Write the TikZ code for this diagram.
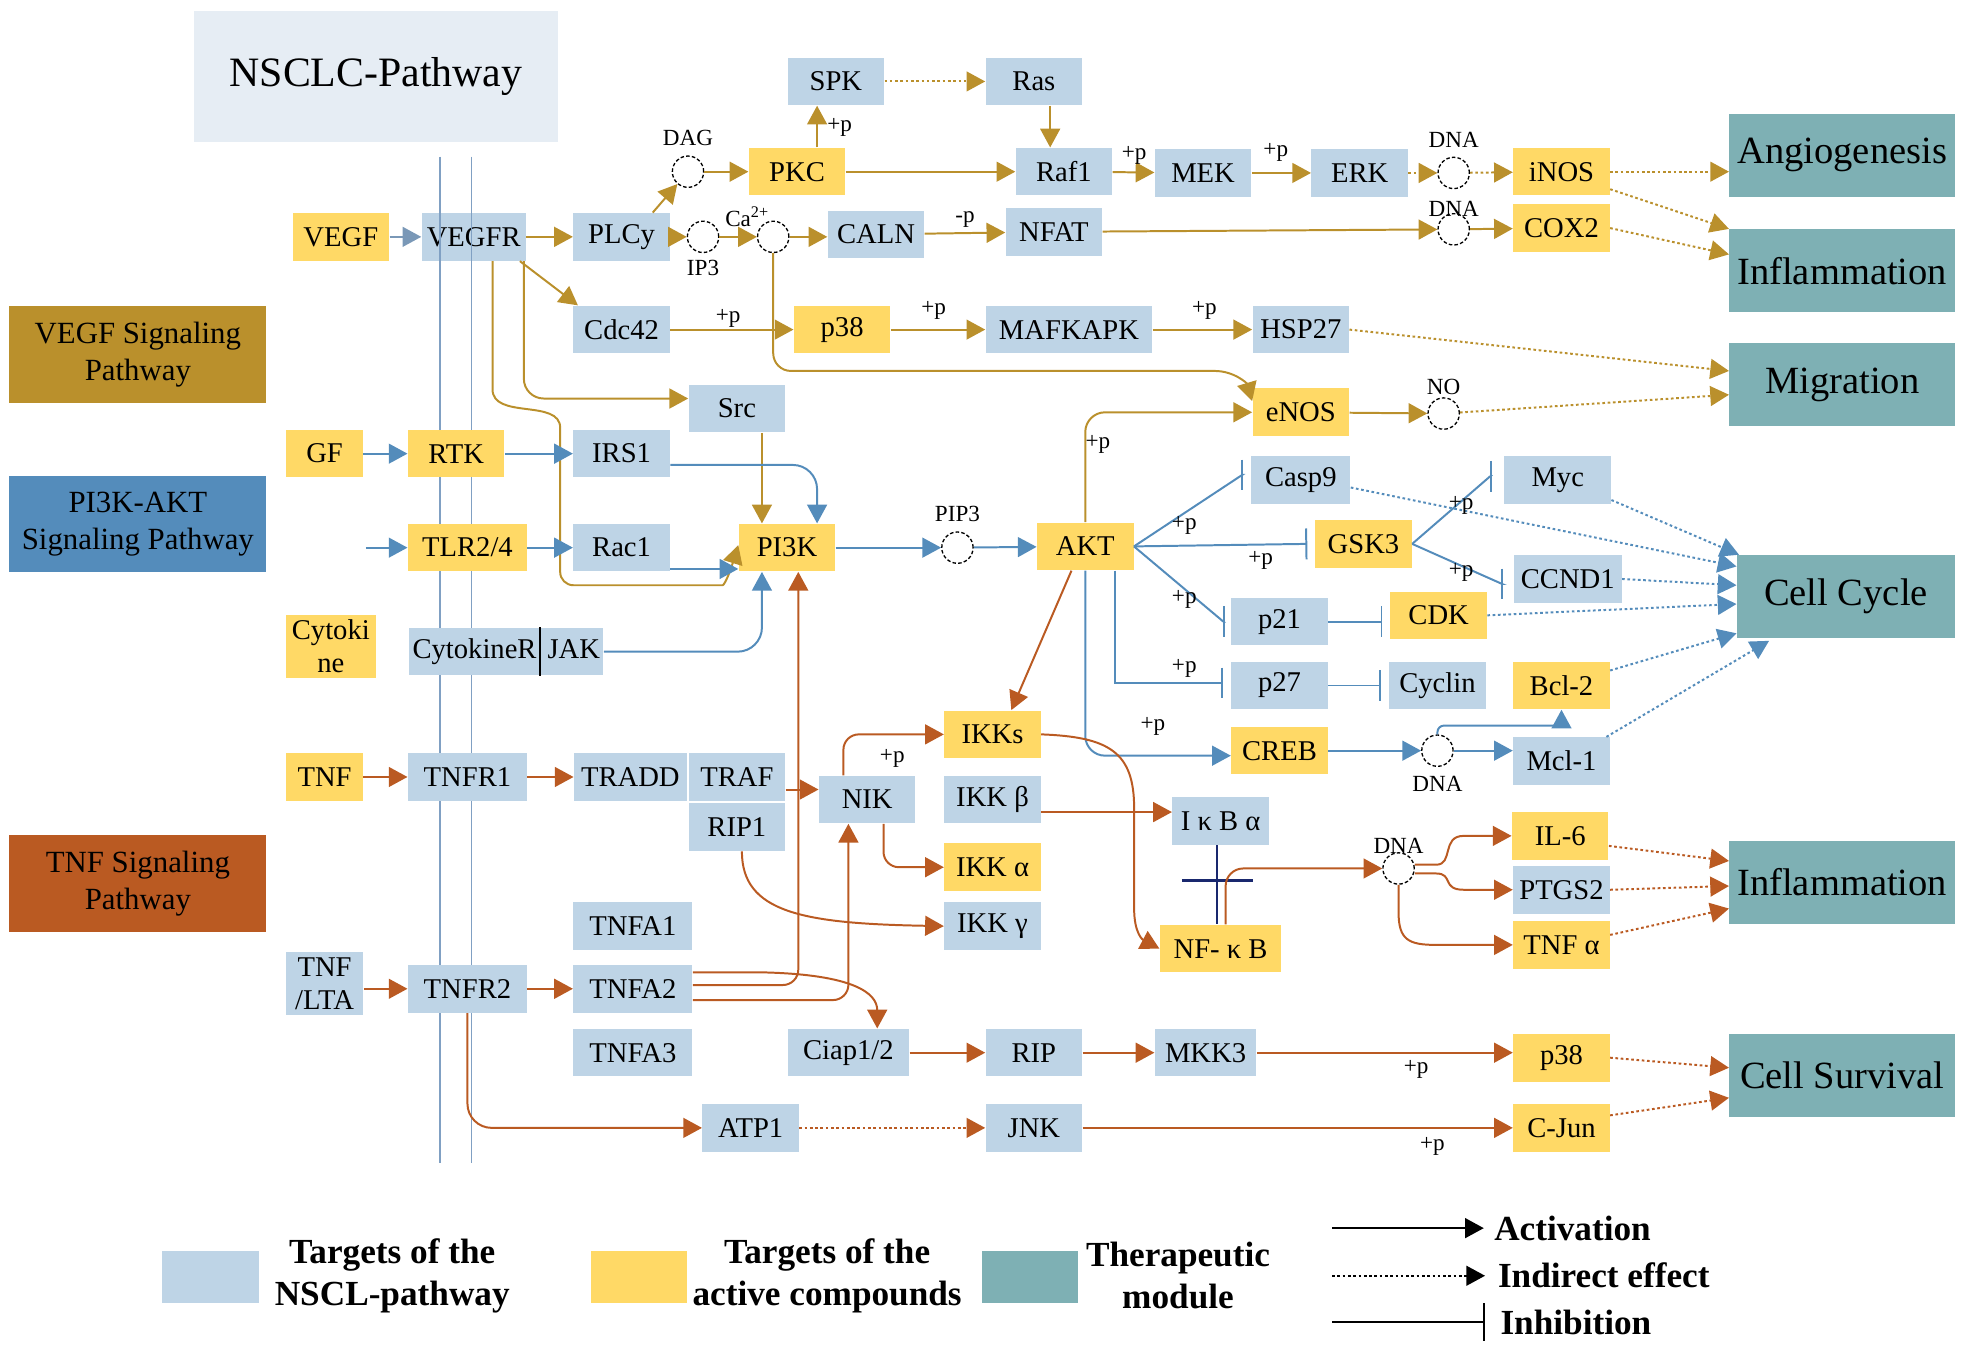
\documentclass[tikz,border=0pt]{standalone}
\usepackage{fontspec}
\setmainfont{Liberation Serif}
\usetikzlibrary{arrows.meta,calc}

\begin{document}
\begin{tikzpicture}[x=0.02cm, y=-0.02cm,
		gene/.style={fill=geneBlue, minimum width=1.54cm, minimum height=0.76cm, inner sep=1pt, font=\genefont},
		drug/.style={gene, fill=drugYellow},
		module/.style={fill=modTeal, minimum width=3.6cm, minimum height=1.32cm, inner sep=1pt, font=\modfont},
		pathkey/.style={minimum width=4.1cm, minimum height=1.54cm, inner sep=2pt, align=center, font=\legfont},
		dna/.style={circle, draw=black, dash pattern=on 1.6pt off 1pt, fill=white, minimum size=0.5cm, inner sep=0pt, line width=0.6pt},
		tag/.style={font=\tagfont, inner sep=1pt},
		act/.style={-{Triangle[length=8.5pt,width=9pt]}, line width=0.9pt},
		ind/.style={act, dash pattern=on 1.2pt off 1.2pt},
		inh/.style={-{Bar[width=14pt]}, line width=0.9pt},
		keytext/.style={font=\keyfont, align=center, inner sep=0pt}]
		
		% Define colors
		\definecolor{geneBlue}{RGB}{190,212,230}
		\definecolor{drugYellow}{RGB}{255,217,102}
		\definecolor{modTeal}{RGB}{126,176,180}
		\definecolor{vegfGold}{RGB}{186,144,44}
		\definecolor{piBlue}{RGB}{84,140,187}
		\definecolor{tnfRust}{RGB}{186,90,34}
		\definecolor{titleGray}{RGB}{230,237,244}
		\definecolor{memBlue}{RGB}{128,160,195}
		\definecolor{slateArrow}{RGB}{122,152,183}
		\definecolor{ikbNavy}{RGB}{25,40,110}
		
		% Define font sizes
		\newcommand{\genefont}{\fontsize{13}{15}\selectfont}
		\newcommand{\tagfont}{\fontsize{10.5}{12}\selectfont}
		\newcommand{\modfont}{\fontsize{17.5}{20}\selectfont}
		\newcommand{\legfont}{\fontsize{14}{17}\selectfont}
		\newcommand{\keyfont}{\fontsize{16}{19}\bfseries\selectfont}
		\newcommand{\ttlfont}{\fontsize{19}{23}\selectfont}
		
		\useasboundingbox (0,0) rectangle (1568,1078);
		
		% Draw the membrane
		\draw[memBlue, line width=0.6pt] (351,125) -- (351,928);
		\draw[memBlue, line width=0.6pt] (376,125) -- (376,928);
		
		% Title and pathway keys
		\node[fill=titleGray, minimum width=5.8cm, minimum height=2.1cm, font=\ttlfont] (title) at (300,61) {NSCLC-Pathway};
		\node[pathkey, fill=vegfGold] (vegfkey) at (110,283) {VEGF Signaling\\Pathway};
		\node[pathkey, fill=piBlue] (pikey) at (110,418) {PI3K-AKT\\Signaling Pathway};
		\node[pathkey, fill=tnfRust] (tnfkey) at (110,705) {TNF Signaling\\Pathway};
		
		% VEGF signaling nodes
		\node[drug] (vegf) at (272,189) {VEGF};
		\node[gene, minimum width=1.66cm] (vegfr) at (378,189) {VEGFR};
		\node[gene] (plc) at (496,189) {PLCy};
		\node[dna, label={[tag, label distance=2pt]below:IP3}] (ip3) at (561,189) {};
		\node[dna, label={[tag, label distance=-4pt]100:Ca\textsuperscript{2+}}] (ca) at (617,189) {};
		\node[gene] (caln) at (699,187) {CALN};
		\node[gene] (nfat) at (841,185) {NFAT};
		\node[dna, label={[tag, label distance=-3pt]above:DNA}] (dnab) at (1160,183) {};
		\node[drug] (cox) at (1246,182) {COX2};
		\node[dna, label={[tag, label distance=3pt]above:DAG}] (dag) at (549,137) {};
		\node[drug] (pkc) at (636,137) {PKC};
		\node[gene] (spk) at (667,65) {SPK};
		\node[gene] (ras) at (825,65) {Ras};
		\node[gene] (raf) at (849,137) {Raf1};
		\node[gene] (mek) at (960,138) {MEK};
		\node[gene] (erk) at (1085,138) {ERK};
		\node[dna, label={[tag, label distance=3pt]above:DNA}] (dnaa) at (1160,138) {};
		\node[drug] (inos) at (1246,137) {iNOS};
		\node[gene] (cdc) at (496,263) {Cdc42};
		\node[drug] (p38a) at (672,263) {p38};
		\node[gene, minimum width=2.66cm] (mapk) at (853,263) {MAFKAPK};
		\node[gene] (hsp) at (1038,263) {HSP27};
		\node[gene] (src) at (588,326) {Src};
		\node[drug] (enos) at (1038,329) {eNOS};
		\node[dna, label={[tag, label distance=0pt]above:NO}] (no) at (1152,330) {};
		
		% Therapeutic modules
		\node[module] (angio) at (1470,124) {Angiogenesis};
		\node[module] (infl) at (1470,216) {Inflammation};
		\node[module] (migr) at (1470,307) {Migration};
		\node[module, minimum width=3.48cm] (cycle) at (1473,476) {Cell Cycle};
		\node[module] (inflb) at (1470,704) {Inflammation};
		\node[module] (surv) at (1470,858) {Cell Survival};
		
		% PI3K-AKT nodes
		\node[drug, minimum width=1.22cm] (gf) at (259,362) {GF};
		\node[drug] (rtk) at (364,362) {RTK};
		\node[gene] (irs) at (496,362) {IRS1};
		\coordinate (tlrin) at (292,437);
		\node[drug, minimum width=1.9cm] (tlr) at (373,437) {TLR2/4};
		\node[gene] (rac) at (496,437) {Rac1};
		\node[drug] (pik) at (628,437) {PI3K};
		\node[dna, label={[tag, label distance=3pt]above:PIP3}] (pip) at (764,437) {};
		\node[drug] (akt) at (866,436) {AKT};
		\node[drug, minimum width=1.44cm, minimum height=1cm, align=center, inner sep=0pt] (cytok) at (264,516) {Cytoki\\ne};
		\node[gene, minimum width=3.1cm] (cytr) at (404,520) {CytokineR\hspace{5pt}JAK};
		\draw[black, line width=0.8pt] ($(cytr.north)+(27,0)$) -- ($(cytr.south)+(27,0)$);
		\node[gene, minimum width=1.58cm] (casp) at (1038,383) {Casp9};
		\node[drug] (gsk) at (1088,434) {GSK3};
		\node[gene, minimum width=1.7cm] (myc) at (1243,383) {Myc};
		\node[gene, minimum width=1.72cm] (ccnd) at (1251,462) {CCND1};
		\node[gene] (p21) at (1021,496) {p21};
		\node[drug] (cdk) at (1148,491) {CDK};
		\node[gene] (p27) at (1021,547) {p27};
		\node[gene] (cyclin) at (1147,547) {Cyclin};
		\node[drug] (bcl) at (1246,547) {Bcl-2};
		\node[drug] (creb) at (1021,599) {CREB};
		\node[dna, label={[tag, label distance=3pt]below:DNA}] (dnac) at (1147,599) {};
		\node[gene] (mcl) at (1246,607) {Mcl-1};
		
		% TNF signaling nodes
		\node[drug, minimum width=1.22cm] (tnf) at (259,620) {TNF};
		\node[gene, minimum width=1.9cm] (tnfr1) at (373,620) {TNFR1};
		\node[gene, minimum width=1.8cm] (tradd) at (503,620) {TRADD};
		\node[gene] (traf) at (588,620) {TRAF};
		\node[gene] (rip1) at (588,660) {RIP1};
		\node[gene] (nik) at (692,638) {NIK};
		\node[drug] (ikks) at (792,586) {IKKs};
		\node[gene] (ikkb) at (792,638) {IKK β};
		\node[drug] (ikka) at (792,692) {IKK α};
		\node[gene] (ikkg) at (792,739) {IKK γ};
		\node[gene] (ikb) at (974,655) {I κ B α};
		\node[drug, minimum width=1.94cm] (nfkb) at (974,757) {NF- κ B};
		\node[dna, label={[tag, label distance=-2pt]above:DNA}] (dnad) at (1116,693) {};
		\node[drug] (il6) at (1245,667) {IL-6};
		\node[gene] (ptgs) at (1246,710) {PTGS2};
		\node[drug] (tnfa) at (1246,754) {TNF α};
		\node[gene, minimum width=1.24cm, minimum height=1cm, align=center, inner sep=0pt] (tnflta) at (259,785) {TNF\\/LTA};
		\node[gene, minimum width=1.9cm] (tnfr2) at (373,789) {TNFR2};
		\node[gene, minimum width=1.9cm] (tnfa1) at (505,739) {TNFA1};
		\node[gene, minimum width=1.9cm] (tnfa2) at (505,789) {TNFA2};
		\node[gene, minimum width=1.9cm] (tnfa3) at (505,840) {TNFA3};
		\node[gene, minimum width=1.94cm] (ciap) at (677,840) {Ciap1/2};
		\node[gene] (rip) at (825,840) {RIP};
		\node[gene, minimum width=1.62cm] (mkk3) at (962,840) {MKK3};
		\node[drug] (p38b) at (1246,844) {p38};
		\node[gene] (atp1) at (599,900) {ATP1};
		\node[gene] (jnk) at (825,900) {JNK};
		\node[drug] (cjun) at (1246,900) {C-Jun};
		
		% Membrane over the VEGF receptor
		\draw[memBlue, line width=0.6pt] (351,0 |- vegfr.north) -- (351,0 |- vegfr.south);
		\draw[memBlue, line width=0.6pt] (376,0 |- vegfr.north) -- (376,0 |- vegfr.south);
		
		% VEGF connectors
		\draw[act, slateArrow] (vegf) -- (vegfr);
		\draw[act, vegfGold] (vegfr) -- (plc);
		\draw[act, vegfGold] ($(plc.north east)+(-14,0)$) -- (dag);
		\draw[act, vegfGold] (plc) -- (ip3);
		\draw[act, vegfGold] (ip3) -- (ca);
		\draw[act, vegfGold] (ca) -- (ca -| caln.west);
		\draw[act, vegfGold] (dag) -- (pkc);
		\draw[act, vegfGold] ($(pkc.north)+(16,0)$) -- ($(spk.south)+(-15,0)$);
		\draw[ind, vegfGold] (spk) -- (ras);
		\draw[act, vegfGold] ($(ras.south)+(13,0)$) -- ($(raf.north)+(-11,0)$);
		\draw[act, vegfGold] (pkc) -- (raf);
		\draw[act, vegfGold] (raf) -- (mek);
		\draw[act, vegfGold] (mek) -- (erk);
		\draw[ind, vegfGold] (erk) -- (dnaa);
		\draw[ind, vegfGold] (dnaa) -- (inos);
		\draw[ind, vegfGold] (inos.east) -- (inos.east -| angio.west);
		\draw[ind, vegfGold] ($(inos.east)+(0,14)$) -- (infl.north west);
		\draw[act, vegfGold] (caln) -- (nfat);
		\draw[act, vegfGold] (nfat) -- (dnab);
		\draw[act, vegfGold] (dnab) -- (cox);
		\draw[ind, vegfGold] (cox.east) -- ($(infl.west)+(0,-13)$);
		\draw[act, vegfGold] ($(vegfr.south east)+(-5,0)$) -- ($(cdc.north west)+(4,0)$);
		\draw[act, vegfGold] (cdc) -- (p38a);
		\draw[act, vegfGold, rounded corners=8pt] (ca.south) |- (955,296) .. controls (985,296) and (995,306) .. ($(enos.west)+(0,-9)$);
		\draw[act, vegfGold] (p38a) -- (mapk);
		\draw[act, vegfGold] (mapk) -- (hsp);
		\draw[ind, vegfGold] (hsp.east) -- ($(migr.west)+(0,-11)$);
		\draw[act, vegfGold, rounded corners=9pt] ($(vegfr.south)+(40,0)$) |- ($(src.west)+(0,-8)$);
		\draw[act, vegfGold, rounded corners=6pt] ($(vegfr.south)+(15,0)$) -- (393,300) .. controls (393,335) and (447,318) .. (447,352) -- (447,467) -- (566,467) .. controls (578,467) and (582,458) .. ($(pik.west)+(0,-2)$);
		\draw[act, vegfGold] ($(src.south)+(20,0)$) -- ($(pik.north)+(-20,0)$);
		\draw[act, vegfGold, rounded corners=9pt] (akt.north) |- (enos.west);
		\draw[act, vegfGold] (enos) -- (no);
		\draw[ind, vegfGold] (no) -- ($(migr.west)+(0,8)$);
		
		% PI3K-AKT connectors
		\draw[act, piBlue] (gf) -- (rtk);
		\draw[act, piBlue] (rtk) -- (irs);
		\draw[act, piBlue, rounded corners=11pt] ($(irs.east)+(0,9)$) -| ($(pik.north)+(24,0)$);
		\draw[act, piBlue] (tlrin) -- (tlr);
		\draw[act, piBlue] (tlr) -- (rac);
		\draw[act, piBlue] ($(rac.east)+(0,17)$) -- ($(pik.west)+(0,17)$);
		\draw[act, piBlue, rounded corners=11pt] (cytr.east) -| ($(pik.south)+(-20,0)$);
		\draw[act, piBlue] (pik) -- (pip);
		\draw[act, piBlue] (pip) -- (akt);
		\draw[inh, piBlue] (akt.east) -- ($(casp.west)+(-7,-4)$) -- ++(1,0);
		\draw[inh, piBlue] (akt.east) -- ($(gsk.west)+(-6,0)$);
		\draw[inh, piBlue] (akt.east) -- ($(p21.west)+(-6,0)$) -- ++(1,0);
		\draw[inh, piBlue] ($(akt.south)+(24,0)$) |- ($(p27.west)+(-6,-2)$);
		\draw[act, piBlue, rounded corners=9pt] (akt.south) |- ($(creb.west)+(0,4)$);
		\draw[inh, piBlue] (gsk.east) -- ($(myc.west)+(-11,-3)$) -- ++(1,0);
		\draw[inh, piBlue] (gsk.east) -- ($(ccnd.west)+(-9,4)$) -- ++(1,0);
		\coordinate (cdkin) at (p21.east -| cdk.west);
		\draw[inh, piBlue] (p21.east) -- ($(cdkin)+(-6,0)$);
		\draw[inh, piBlue] (p27.east) -- ($(cyclin.west)+(-6,0)$);
		\draw[act, piBlue] (creb) -- (dnac);
		\draw[act, piBlue] (dnac) -- (dnac -| mcl.west);
		\draw[act, piBlue, rounded corners=3pt] (dnac.north) -- ++(0,-7) -| (bcl.south);
		\draw[ind, piBlue] ($(casp.east)+(0,6)$) -- ($(cycle.west)+(0,-24)$);
		\draw[ind, piBlue] ($(myc.east)+(0,16)$) -- ($(cycle.north west)+(2,0)$);
		\draw[ind, piBlue] (ccnd.east) -- ($(cycle.west)+(0,-9)$);
		\draw[ind, piBlue] (cdk.east) -- ($(cycle.west)+(0,6)$);
		\draw[ind, piBlue] ($(bcl.east)+(0,-12)$) -- ($(cycle.south west)+(0,-4)$);
		\draw[ind, piBlue] ($(mcl.east)+(-3,-19)$) -- ($(cycle.south west)+(26,2)$);
		
		% TNF connectors
		\draw[act, tnfRust] (tnf) -- (tnfr1);
		\draw[act, tnfRust] (tnfr1) -- (tradd);
		\draw[act, tnfRust] ($(traf.east)+(0,10)$) -- ($(nik.west)+(0,-8)$);
		\draw[act, tnfRust, rounded corners=7pt] ($(tnfa2.east)+(0,-3)$) -| ($(pik.south)+(9,0)$);
		\draw[act, tnfRust, rounded corners=7pt] ($(tnfa2.east)+(0,9)$) -| ($(nik.south)+(-15,0)$);
		\draw[act, tnfRust] ($(tnfa2.east)+(0,-13)$) -- (612,776) .. controls (680,778) and (700,792) .. ($(ciap.north)+(23,0)$);
		\draw[act, tnfRust, rounded corners=7pt] ($(nik.north)+(-19,0)$) |- (ikks.west);
		\draw[act, tnfRust, rounded corners=7pt] ($(nik.south)+(13,0)$) |- (ikka.west);
		\draw[act, tnfRust] ($(rip1.south)+(4,0)$) .. controls (592,728) and (640,737) .. (ikkg.west);
		\draw[act, tnfRust] ($(akt.south)+(-11,0)$) -- ($(ikks.north)+(15,0)$);
		\draw[act, tnfRust] (ikks.east) .. controls (885,588) and (905,600) .. (905,645) -- (905,725) .. controls (905,745) and (912,750) .. (nfkb.west);
		\draw[act, tnfRust] ($(ikkb.east)+(0,10)$) -- ($(ikb.west)+(0,-7)$);
		\draw[ikbNavy, line width=1.2pt] ($(ikb.south)+(-3,0)$) -- ($(nfkb.north)+(-3,0)$);
		\coordinate (ikbx) at ($(ikb.south)!0.45!(nfkb.north)+(-3,0)$);
		\draw[ikbNavy, line width=1.2pt] ($(ikbx)+(-28,0)$) -- ($(ikbx)+(29,0)$);
		\draw[act, tnfRust, rounded corners=8pt] ($(nfkb.north)+(4,0)$) |- (dnad.west);
		\draw[act, tnfRust] ($(dnad.east)+(0,-3)$) -- (1146,690) .. controls (1160,690) and (1150,667) .. (1168,667) -- (il6.west);
		\draw[act, tnfRust] ($(dnad.east)+(0,4)$) -- (1146,697) .. controls (1160,697) and (1150,710) .. (1168,710) -- (ptgs.west);
		\draw[act, tnfRust] (dnad.south) -- (1116,728) .. controls (1116,750) and (1124,754) .. (1146,754) -- (tnfa.west);
		\draw[ind, tnfRust] ($(il6.east)+(0,8)$) -- ($(inflb.west)+(0,-17)$);
		\draw[ind, tnfRust] (ptgs.east) -- ($(inflb.west)+(0,3)$);
		\draw[ind, tnfRust] ($(tnfa.east)+(0,-8)$) -- ($(inflb.west)+(0,21)$);
		\draw[act, tnfRust] (tnflta.east |- tnfr2.west) -- (tnfr2.west);
		\draw[act, tnfRust] (tnfr2) -- (tnfa2);
		\draw[act, tnfRust, rounded corners=11pt] (tnfr2.south) |- (atp1.west);
		\draw[act, tnfRust] (ciap) -- (rip);
		\draw[act, tnfRust] (rip) -- (mkk3);
		\draw[act, tnfRust] (mkk3.east) -- (mkk3.east -| p38b.west);
		\draw[ind, tnfRust] (atp1) -- (jnk);
		\draw[act, tnfRust] (jnk) -- (cjun);
		\draw[ind, tnfRust] (p38b.east) -- ($(surv.west)+(0,-6)$);
		\draw[ind, tnfRust] ($(cjun.east)+(0,-10)$) -- ($(surv.west)+(0,18)$);
		
		% Phosphorylation tags
		\node[tag] (tpkc) at (670,102) {+p};
		\node[tag] (traf1) at (905,124) {+p};
		\node[tag] (tmek) at (1018,122) {+p};
		\node[tag] (tcaln) at (770,175) {-p};
		\node[tag] (tcdc) at (581,254) {+p};
		\node[tag] (tpa) at (745,248) {+p};
		\node[tag] (tmapk) at (961,248) {+p};
		\node[tag] (tenos) at (876,355) {+p};
		\node[tag] (tcasp) at (945,419) {+p};
		\node[tag] (tgsk) at (1006,447) {+p};
		\node[tag] (tp21) at (945,478) {+p};
		\node[tag] (tp27) at (945,533) {+p};
		\node[tag] (tcreb) at (920,580) {+p};
		\node[tag] (tmyc) at (1166,403) {+p};
		\node[tag] (tccnd) at (1166,457) {+p};
		\node[tag] (tnik) at (712,605) {+p};
		\node[tag] (tmkk) at (1130,853) {+p};
		\node[tag] (tjnk) at (1143,915) {+p};
		
		% Legend
		\node[gene, minimum height=0.84cm] (keyA) at (168,1019) {};
		\node[keytext] (keyAL) at (313,1018) {Targets of the\\NSCL-pathway};
		\node[drug, minimum height=0.84cm] (keyB) at (510,1019) {};
		\node[keytext] (keyBL) at (660,1018) {Targets of the\\active compounds};
		\node[module, minimum width=1.54cm, minimum height=0.84cm] (keyC) at (822,1019) {};
		\node[keytext] (keyCL) at (940,1018) {Therapeutic\\module};
		\coordinate (actS) at (1063,980);
		\node[keytext, anchor=west] (actL) at (1192,980) {Activation};
		\draw[act, black] (actS) -- ($(actL.west)+(-8,0)$);
		\coordinate (indS) at (1063,1018);
		\node[keytext, anchor=west] (indL) at (1195,1018) {Indirect effect};
		\draw[ind, black] (indS) -- ($(indL.west)+(-10,0)$);
		\coordinate (inhS) at (1063,1055);
		\node[keytext, anchor=west] (inhL) at (1197,1055) {Inhibition};
		\draw[inh, black, -{Bar[width=17pt]}] (inhS) -- ($(inhL.west)+(-12,0)$);
		
	\end{tikzpicture}
\end{document}
